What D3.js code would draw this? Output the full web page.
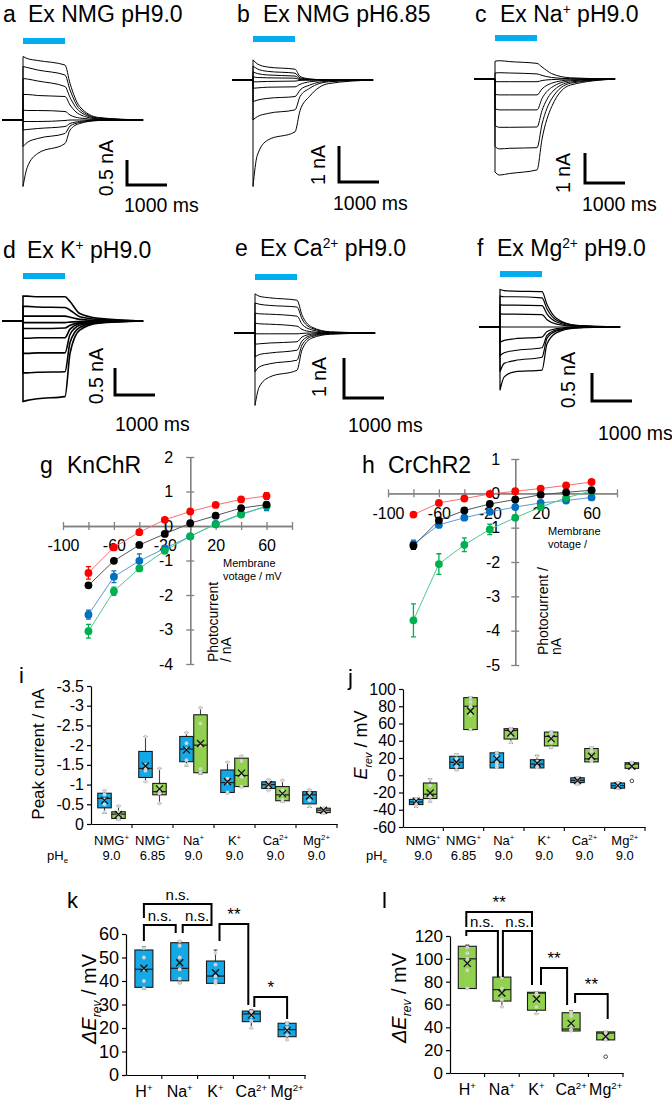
<!DOCTYPE html>
<html><head><meta charset="utf-8">
<script src="https://d3js.org/d3.v7.min.js"></script>
<style>html,body{margin:0;padding:0;background:#fff;}svg{display:block;}</style>
</head><body>
<script>
// ================= DATA =================
// Photocurrent traces (nA) at these times (s after light onset); holding = 0 nA
const traceTimes = [0, 0.1, 0.35, 1.0, 1.12, 1.35, 1.8];
const holdStart = -0.5, recordEnd = 2.86;
const tracesA = [
  [1.27, 1.23, 1.19, 1.10, 0.73, 0.27, 0.05],
  [1.07, 1.05, 1.00, 0.90, 0.60, 0.22, 0.04],
  [0.83, 0.82, 0.78, 0.67, 0.45, 0.17, 0.03],
  [0.51, 0.51, 0.49, 0.47, 0.30, 0.11, 0.02],
  [0.20, 0.19, 0.19, 0.17, 0.10, 0.04, 0.01],
  [-0.03, -0.03, -0.03, -0.01, 0.00, 0.00, 0.00],
  [-0.20, -0.19, -0.17, -0.13, -0.07, -0.03, 0.00],
  [-0.53, -0.45, -0.37, -0.27, -0.12, -0.05, -0.01],
  [-1.33, -0.95, -0.67, -0.47, -0.20, -0.07, -0.01]
];
const tracesB = [
  [0.56, 0.45, 0.36, 0.30, 0.10, 0.03, 0.00],
  [0.39, 0.31, 0.24, 0.19, 0.06, 0.02, 0.00],
  [0.23, 0.18, 0.14, 0.11, 0.03, 0.01, 0.00],
  [0.09, 0.07, 0.06, 0.05, 0.01, 0.00, 0.00],
  [-0.05, -0.05, -0.04, -0.03, -0.01, 0.00, 0.00],
  [-0.23, -0.22, -0.20, -0.19, -0.12, -0.05, -0.01],
  [-0.60, -0.56, -0.51, -0.46, -0.28, -0.14, -0.03],
  [-1.11, -1.02, -0.93, -0.83, -0.46, -0.23, -0.05],
  [-2.96, -2.10, -1.67, -1.44, -0.85, -0.45, -0.10]
];
const tracesC = [
  [0.59, 0.61, 0.58, 0.52, 0.40, 0.18, 0.04],
  [0.20, 0.21, 0.20, 0.17, 0.12, 0.05, 0.01],
  [-0.09, -0.09, -0.09, -0.09, -0.05, -0.02, 0.00],
  [-0.51, -0.53, -0.53, -0.53, -0.33, -0.14, -0.03],
  [-0.99, -1.03, -1.03, -1.03, -0.65, -0.28, -0.06],
  [-1.55, -1.61, -1.61, -1.60, -1.05, -0.45, -0.10],
  [-2.25, -2.33, -2.31, -2.29, -1.50, -0.66, -0.14],
  [-3.10, -3.20, -3.15, -3.03, -2.00, -0.92, -0.20]
];
const tracesD = [
  [0.46, 0.46, 0.45, 0.45, 0.36, 0.14, 0.05],
  [0.27, 0.27, 0.26, 0.25, 0.20, 0.08, 0.03],
  [0.09, 0.09, 0.09, 0.09, 0.07, 0.03, 0.01],
  [-0.03, -0.03, -0.03, -0.03, -0.02, -0.01, 0.00],
  [-0.14, -0.14, -0.14, -0.13, -0.08, -0.03, 0.00],
  [-0.32, -0.32, -0.31, -0.31, -0.15, -0.05, -0.01],
  [-0.60, -0.60, -0.59, -0.59, -0.25, -0.08, -0.02],
  [-0.96, -0.96, -0.95, -0.94, -0.40, -0.12, -0.03],
  [-1.49, -1.47, -1.44, -1.40, -0.60, -0.17, -0.04]
];
const tracesE = [
  [0.98, 0.92, 0.88, 0.82, 0.45, 0.15, 0.03],
  [0.75, 0.72, 0.69, 0.65, 0.35, 0.12, 0.02],
  [0.50, 0.48, 0.47, 0.42, 0.22, 0.08, 0.01],
  [0.25, 0.23, 0.22, 0.17, 0.09, 0.03, 0.00],
  [-0.02, -0.02, -0.02, -0.02, -0.01, 0.00, 0.00],
  [-0.28, -0.27, -0.25, -0.22, -0.10, -0.03, 0.00],
  [-0.60, -0.54, -0.50, -0.43, -0.20, -0.06, -0.01],
  [-0.97, -0.85, -0.77, -0.68, -0.30, -0.09, -0.02],
  [-1.81, -1.35, -1.10, -0.93, -0.42, -0.13, -0.03]
];
const tracesF = [
  [0.67, 0.65, 0.64, 0.63, 0.40, 0.15, 0.03],
  [0.55, 0.54, 0.54, 0.52, 0.32, 0.12, 0.03],
  [0.40, 0.39, 0.39, 0.38, 0.23, 0.09, 0.02],
  [0.24, 0.23, 0.23, 0.22, 0.13, 0.05, 0.01],
  [0.00, 0.00, 0.00, 0.00, 0.00, 0.00, 0.00],
  [-0.27, -0.24, -0.21, -0.18, -0.08, -0.03, 0.00],
  [-0.51, -0.46, -0.42, -0.37, -0.15, -0.05, -0.01],
  [-0.80, -0.65, -0.60, -0.54, -0.20, -0.07, -0.01],
  [-1.13, -0.89, -0.80, -0.77, -0.30, -0.10, -0.02]
];

// I-V curves (mV, nA)
const ivVoltages = [-80, -60, -40, -20, 0, 20, 40, 60];
const ivXTicks = [-100, -80, -60, -40, -20, 0, 20, 40, 60, 80];
const ivXLabels = [-100, -60, -20, 20, 60];
const gRed = [-1.36, -0.62, -0.18, 0.18, 0.42, 0.61, 0.77, 0.87];
const gRedErr = [0.18, 0.05, 0.05, 0.04, 0.03, 0.03, 0.04, 0.10];
const gBlack = [-1.72, -1.01, -0.55, -0.23, 0.08, 0.30, 0.52, 0.62];
const gBlackErr = [0.06, 0.06, 0.05, 0.04, 0.03, 0.03, 0.04, 0.05];
const gBlue = [-2.57, -1.47, -1.01, -0.65, -0.30, 0.06, 0.35, 0.57];
const gBlueErr = [0.13, 0.17, 0.20, 0.08, 0.06, 0.04, 0.05, 0.12];
const gGreen = [-3.05, -1.89, -1.23, -0.72, -0.30, 0.05, 0.33, 0.57];
const gGreenErr = [0.20, 0.12, 0.06, 0.05, 0.04, 0.03, 0.04, 0.05];
const hRed = [-0.62, -0.28, -0.15, -0.02, 0.06, 0.14, 0.23, 0.33];
const hRedErr = [0.04, 0.03, 0.03, 0.02, 0.02, 0.02, 0.02, 0.03];
const hBlack = [-1.53, -0.79, -0.50, -0.31, -0.18, -0.04, 0.03, 0.09];
const hBlackErr = [0.10, 0.05, 0.04, 0.03, 0.03, 0.02, 0.02, 0.03];
const hBlue = [-1.48, -0.92, -0.71, -0.54, -0.40, -0.28, -0.21, -0.12];
const hBlueErr = [0.12, 0.05, 0.04, 0.04, 0.03, 0.03, 0.03, 0.03];
const hGreen = [-3.70, -2.06, -1.50, -1.05, -0.71, -0.40, -0.13, 0.07];
const hGreenErr = [0.48, 0.30, 0.20, 0.15, 0.05, 0.04, 0.03, 0.03];

// Box plots: [whisker end, Q1, median, Q3, whisker end]
const ionCats = ["NMG9", "NMG6.85", "Na", "K", "Ca", "Mg"];
const ionNames = [["NMG", "+"], ["NMG", "+"], ["Na", "+"], ["K", "+"], ["Ca", "2+"], ["Mg", "2+"]];
const ionPH = ["9.0", "6.85", "9.0", "9.0", "9.0", "9.0"];
const iBlue = [[-0.27, -0.41, -0.65, -0.78, -0.85], [-1.07, -1.18, -1.41, -1.84, -2.22], [-1.47, -1.58, -1.90, -2.22, -2.32],
               [-0.78, -0.80, -1.05, -1.37, -1.57], [-0.85, -0.90, -1.00, -1.07, -1.13], [-0.42, -0.51, -0.74, -0.82, -0.87]];
const iBlueMean = [-0.60, -1.47, -1.88, -1.07, -1.00, -0.71];
const iBluePts = [[-0.85, -0.75, -0.62, -0.5, -0.3], [-2.22, -1.5, -1.42, -1.35, -1.07], [-2.32, -2.05, -1.9, -1.62, -1.5],
                  [-1.57, -1.15, -1.05, -0.8, -0.78], [-1.13, -1.05, -1.0, -0.95, -0.85], [-0.87, -0.78, -0.72, -0.6, -0.45]];
const iGreen = [[-0.10, -0.14, -0.25, -0.31, -0.46], [-0.52, -0.74, -0.82, -1.03, -1.41], [-1.26, -1.30, -2.00, -2.77, -2.95],
                [-0.93, -0.95, -1.23, -1.67, -1.73], [-0.55, -0.59, -0.74, -0.95, -1.11], [-0.26, -0.29, -0.35, -0.40, -0.41]];
const iGreenMean = [-0.24, -0.89, -2.04, -1.29, -0.77, -0.35];
const iGreenPts = [[-0.46, -0.3, -0.25, -0.18, -0.12], [-1.41, -0.95, -0.85, -0.78, -0.52], [-2.95, -2.55, -2.0, -1.4, -1.3],
                   [-1.73, -1.6, -1.2, -0.95, -0.93], [-1.11, -0.85, -0.75, -0.62, -0.57], [-0.41, -0.38, -0.35, -0.32, -0.28]];
const jBlue = [[-37, -34, -31, -28, -26], [6, 8, 15, 22, 25], [8, 8.5, 15, 26, 27], [8.5, 8.5, 13, 18, 23], [-11, -8.5, -6, -3, -2], [-16, -15, -12, -9, -8]];
const jBlueMean = [-30, 15, 19, 14, -6, -12];
const jBluePts = [[-36, -33, -31, -29, -27], [6, 10, 15, 19, 24], [9, 12, 15, 22, 26], [9, 11, 13, 16, 22], [-10, -8, -6, -4, -3], [-15, -14, -12, -10, -9]];
const jGreen = [[-31, -27, -22, -9, -4], [52, 53, 80, 90, 91], [37, 42, 52, 54, 55], [31, 34, 45, 50, 51], [15, 15.5, 19, 31, 33], [8, 8, 13, 14.5, 16]];
const jGreenMean = [-20.5, 74.5, 49, 42.5, 22, 10.5];
const jGreenPts = [[-30, -25, -22, -12, -5], [53, 70, 80, 85, 90], [38, 45, 50, 53, 54], [32, 38, 44, 48, 50], [16, 18, 22, 28, 32], [9, 10, 12, 14, 15]];
const jGreenOutliers = [[], [], [], [], [], [-6.5]];

const dCats = ["H", "Na", "K", "Ca", "Mg"];
const dNames = [["H", "+"], ["Na", "+"], ["K", "+"], ["Ca", "2+"], ["Mg", "2+"]];
const kBox = [[36.5, 37.3, 45, 53.2, 54.6], [39.2, 40.1, 45.4, 56.3, 57], [39, 39, 42.1, 48.5, 53.2], [19.9, 22.7, 26, 27.2, 27.7], [14.9, 16.3, 19.3, 22, 22.4]];
const kMean = [45.4, 47.8, 43.5, 25.5, 19];
const kPts = [[37, 40, 45, 50, 54], [39, 41, 45, 50, 55, 57], [39, 40, 42, 47, 52], [20, 23, 25, 26, 27], [15, 17, 19, 20, 22]];
const lBox = [[74, 74, 100, 111, 112], [58, 63, 73, 84, 84], [52, 55, 70, 70.7, 71], [36.8, 36.8, 38.5, 52.8, 54.5], [29, 29, 35, 36, 36.5]];
const lMean = [96, 70, 64.8, 43.5, 32];
const lPts = [[74, 90, 100, 105, 110], [58, 64, 70, 74, 84], [52, 58, 65, 69, 70], [37, 38, 42, 50, 53], [29, 31, 33, 35, 36]];
const lOutliers = [[], [], [], [], [14.3]];

// Significance brackets: [from, to, label, bar level, drop at from, drop at to] (mV)
const kSig = [[0, 2, "n.s.", 72.8, 66.8, 66.8], [0, 1, "n.s.", 63.8, 57, 60.4], [1, 2, "n.s.", 63.8, 60.4, 66.8],
              [2, 3, "**", 64.3, 57, 29.8], [3, 4, "*", 33.2, 28.9, 23.8]];
const lSig = [[0, 2, "**", 141, 127.8, 127.8], [0, 1, "n.s.", 124.3, 120, 84], [1, 2, "n.s.", 124.3, 84, 77],
              [2, 3, "**", 92, 77, 59.5], [3, 4, "**", 69.2, 61.3, 47.3]];

// ================= DRAWING =================
const FONT = "'Liberation Sans', Arial, Helvetica, sans-serif";
const LIGHT = "#00aeef", BOXBLUE = "#14a9e6", BOXGREEN = "#92d050";
const svg = d3.select("body").append("svg").attr("width", 672).attr("height", 1107)
  .attr("font-family", FONT).attr("fill", "#000");

function rich(sel, parts, size) {
  let cur = 0;
  parts.forEach(p => {
    const f = p[1] || "";
    const ts = sel.append("tspan").text(p[0]);
    let target = 0;
    if (f.includes("s")) target = -0.36 * size;
    if (f.includes("b")) target = 0.26 * size;
    if (target !== cur) ts.attr("dy", (target - cur).toFixed(2));
    cur = target;
    if (f.includes("s") || f.includes("b")) ts.attr("font-size", (size * 0.6).toFixed(1));
    if (f.includes("i")) ts.attr("font-style", "italic");
  });
}

// ---- trace panels ----
const traceLayout = [
  {data: tracesA, lab: "a", title: [["Ex NMG pH9.0"]], lx: 3, tx: 28, ty: 22, on: 23, base: 120, pxNA: 50, barY: 38, sb: 0.5, sbText: "0.5 nA", sbX: 127, sbY: 185, sbTX: 113, sbTY: 168, msX: 124, msY: 212, sw: 1},
  {data: tracesB, lab: "b", title: [["Ex NMG pH6.85"]], lx: 237, tx: 263, ty: 22, on: 253, base: 80, pxNA: 36, barY: 36, sb: 1, sbText: "1 nA", sbX: 339, sbY: 182, sbTX: 325, sbTY: 165, msX: 333, msY: 210, sw: 1},
  {data: tracesC, lab: "c", title: [["Ex Na"], ["+", "s"], [" pH9.0"]], lx: 475, tx: 500, ty: 22, on: 495, base: 79, pxNA: 30, barY: 35, sb: 1, sbText: "1 nA", sbX: 585, sbY: 183, sbTX: 570, sbTY: 173, msX: 582, msY: 211, sw: 1},
  {data: tracesD, lab: "d", title: [["Ex K"], ["+", "s"], [" pH9.0"]], lx: 3, tx: 27, ty: 258, on: 23, base: 321, pxNA: 54, barY: 273, sb: 0.5, sbText: "0.5 nA", sbX: 115, sbY: 395, sbTX: 103, sbTY: 376, msX: 115, msY: 431, sw: 1.6},
  {data: tracesE, lab: "e", title: [["Ex Ca"], ["2+", "s"], [" pH9.0"]], lx: 235, tx: 260, ty: 256, on: 255, base: 333, pxNA: 40, barY: 274, sb: 1, sbText: "1 nA", sbX: 344, sbY: 398, sbTX: 326, sbTY: 377, msX: 348, msY: 432, sw: 1},
  {data: tracesF, lab: "f", title: [["Ex Mg"], ["2+", "s"], [" pH9.0"]], lx: 477, tx: 497, ty: 256, on: 500, base: 327, pxNA: 56, barY: 271, sb: 0.5, sbText: "0.5 nA", sbX: 592, sbY: 401, sbTX: 575, sbTY: 380, msX: 598, msY: 440, sw: 1.2}
];

traceLayout.forEach(p => {
  const g = svg.append("g");
  const x = d3.scaleLinear().domain([0, 1]).range([p.on, p.on + 42]);
  const y = d3.scaleLinear().domain([0, 1]).range([p.base, p.base - p.pxNA]);
  g.append("text").attr("x", p.lx).attr("y", p.ty).attr("font-size", 23).text(p.lab);
  rich(g.append("text").attr("x", p.tx).attr("y", p.ty).attr("font-size", 23), p.title, 23);
  g.append("rect").attr("x", x(0)).attr("width", x(1) - x(0)).attr("y", p.barY).attr("height", 6).attr("fill", LIGHT);
  const line = d3.line().x(d => x(d[0])).y(d => y(d[1])).curve(d3.curveMonotoneX);
  p.data.forEach(vals => {
    const pts = traceTimes.map((t, i) => [t, vals[i]]).concat([[recordEnd, 0]]);
    const c = line(pts);
    g.append("path").attr("d", `M${x(holdStart)},${y(0)}L${x(0)},${y(0)}L` + c.slice(1))
      .attr("fill", "none").attr("stroke", "#000").attr("stroke-width", p.sw);
  });
  const vLen = y(0) - y(p.sb), hLen = x(1) - x(0) - 2;
  g.append("path").attr("d", `M${p.sbX},${p.sbY - vLen}V${p.sbY}H${p.sbX + hLen}`)
    .attr("fill", "none").attr("stroke", "#000").attr("stroke-width", 3);
  g.append("text").attr("transform", `translate(${p.sbTX},${p.sbTY}) rotate(-90)`).attr("text-anchor", "middle")
    .attr("font-size", 19.5).text(p.sbText);
  g.append("text").attr("x", p.msX).attr("y", p.msY).attr("font-size", 19.5).text("1000 ms");
});

// ---- I-V panels ----
function ivPanel(cfg) {
  const g = svg.append("g");
  const AX = "#808080";
  const x = d3.scaleLinear().domain([-100, 80]).range([cfg.xl, cfg.xr]);
  const y = d3.scaleLinear().domain([cfg.yMin, cfg.yMax]).range([cfg.yb, cfg.yt]);
  const fmtX = d => ivXLabels.includes(d) ? String(d) : "";
  const ax1 = g.append("g").attr("transform", `translate(0,${y(0)})`)
    .call(d3.axisBottom(x).tickValues(ivXTicks).tickSize(4).tickSizeOuter(0).tickPadding(10).tickFormat(fmtX));
  const ax2 = g.append("g").attr("transform", `translate(0,${y(0)})`)
    .call(d3.axisTop(x).tickValues(ivXTicks).tickSize(4).tickSizeOuter(0).tickFormat(""));
  const ay1 = g.append("g").attr("transform", `translate(${x(0)},0)`)
    .call(d3.axisLeft(y).tickValues(d3.range(cfg.yMin, cfg.yMax + 1)).tickSize(4).tickSizeOuter(0).tickPadding(cfg.yPad).tickFormat(d => String(d)));
  const ay2 = g.append("g").attr("transform", `translate(${x(0)},0)`)
    .call(d3.axisRight(y).tickValues(d3.range(cfg.yMin, cfg.yMax + 1)).tickSize(4).tickSizeOuter(0).tickFormat(""));
  [ax1, ax2, ay1, ay2].forEach(a => {
    a.selectAll("path,line").attr("stroke", AX).attr("stroke-width", 1.3);
    a.selectAll("text").attr("font-size", 16).attr("font-family", FONT).attr("fill", "#000");
  });
  const line = d3.line().x((d, i) => x(ivVoltages[i])).y(d => y(d));
  cfg.series.forEach(s => {
    g.append("path").attr("d", line(s.v)).attr("fill", "none").attr("stroke", s.lc).attr("stroke-width", 1);
  });
  cfg.series.forEach(s => {
    s.v.forEach((v, i) => {
      const cx = x(ivVoltages[i]), e = s.e[i];
      g.append("path").attr("d", `M${cx},${y(v - e)}V${y(v + e)}M${cx - 2.5},${y(v - e)}H${cx + 2.5}M${cx - 2.5},${y(v + e)}H${cx + 2.5}`)
        .attr("stroke", s.c).attr("stroke-width", 1.3).attr("fill", "none");
      g.append("circle").attr("cx", cx).attr("cy", y(v)).attr("r", 3.9).attr("fill", s.c);
    });
  });
  g.append("text").attr("x", cfg.labX).attr("y", 473).attr("font-size", 23).text(cfg.lab);
  g.append("text").attr("x", cfg.nameX).attr("y", 473).attr("font-size", 23).text(cfg.name);
  cfg.mem.forEach((t, i) => g.append("text").attr("x", cfg.memX).attr("y", cfg.memY + i * 12.5).attr("font-size", 11).text(t));
  cfg.pc.forEach((t, i) => g.append("text").attr("transform", `translate(${cfg.pcX + i * 13},${cfg.pcY}) rotate(-90)`).attr("font-size", 14).text(t));
}
ivPanel({lab: "g", labX: 40, name: "KnChR", nameX: 67, xl: 63, xr: 292, yMin: -4, yMax: 2, yb: 664, yt: 457, yPad: 13,
  mem: ["Membrane", "votage / mV"], memX: 223, memY: 567, pc: ["Photocurrent", "/ nA"], pcX: 218, pcY: 662,
  series: [
    {v: gBlue, e: gBlueErr, c: "#0070c0", lc: "#5b9bd5"},
    {v: gGreen, e: gGreenErr, c: "#00b050", lc: "#4cc98a"},
    {v: gRed, e: gRedErr, c: "#ff0000", lc: "#ff6b6b"},
    {v: gBlack, e: gBlackErr, c: "#000000", lc: "#555555"}]});
ivPanel({lab: "h", labX: 362, name: "CrChR2", nameX: 388, xl: 388, xr: 617, yMin: -5, yMax: 1, yb: 665, yt: 459, yPad: 11,
  mem: ["Membrane", "votage /"], memX: 548, memY: 535, pc: ["Photocurrent /", "nA"], pcX: 548, pcY: 655,
  series: [
    {v: hBlue, e: hBlueErr, c: "#0070c0", lc: "#5b9bd5"},
    {v: hGreen, e: hGreenErr, c: "#00b050", lc: "#4cc98a"},
    {v: hRed, e: hRedErr, c: "#ff0000", lc: "#ff6b6b"},
    {v: hBlack, e: hBlackErr, c: "#000000", lc: "#555555"}]});

// ---- box panels ----
function drawBox(g, y, cx, w, s, mean, pts, outl, fill) {
  const L = "#404040";
  g.append("path").attr("d", `M${cx},${y(s[0])}V${y(s[1])}M${cx},${y(s[3])}V${y(s[4])}M${cx - 2},${y(s[0])}H${cx + 2}M${cx - 2},${y(s[4])}H${cx + 2}`)
    .attr("stroke", L).attr("stroke-width", 1.1).attr("fill", "none");
  const y1 = Math.min(y(s[1]), y(s[3])), y2 = Math.max(y(s[1]), y(s[3]));
  g.append("rect").attr("x", cx - w / 2).attr("y", y1).attr("width", w).attr("height", Math.max(y2 - y1, 1))
    .attr("fill", fill).attr("stroke", "#1a1a1a").attr("stroke-width", 1.1);
  g.append("line").attr("x1", cx - w / 2).attr("x2", cx + w / 2).attr("y1", y(s[2])).attr("y2", y(s[2]))
    .attr("stroke", "#1a1a1a").attr("stroke-width", 1.2);
  pts.forEach(v => g.append("circle").attr("cx", cx).attr("cy", y(v)).attr("r", 1.9).attr("fill", "#d4d4d4"));
  outl.forEach(v => g.append("circle").attr("cx", cx).attr("cy", y(v)).attr("r", 1.8).attr("fill", "#fff").attr("stroke", "#333").attr("stroke-width", 0.9));
  const my = y(mean), k = 3.5;
  g.append("path").attr("d", `M${cx - k},${my - k}L${cx + k},${my + k}M${cx - k},${my + k}L${cx + k},${my - k}`)
    .attr("stroke", "#111").attr("stroke-width", 1.3);
}

function boxPanel(cfg) {
  const g = svg.append("g");
  const y = d3.scaleLinear().domain(cfg.domain).range([cfg.yb, cfg.yt]);
  const x = d3.scaleBand().domain(cfg.cats).range([cfg.xl, cfg.xr]);
  const ay = g.append("g").attr("transform", `translate(${cfg.xl},0)`)
    .call(d3.axisLeft(y).tickValues(cfg.ticks).tickSize(4).tickSizeOuter(0).tickPadding(3).tickFormat(d => String(d)));
  ay.selectAll("path,line").attr("stroke", "#000").attr("stroke-width", 1.2);
  ay.selectAll("text").attr("font-size", cfg.tickFont).attr("font-family", FONT).attr("fill", "#000");
  const ax = g.append("g").attr("transform", `translate(0,${cfg.yb})`)
    .call(d3.axisBottom(x).tickSize(0).tickFormat(""));
  ax.selectAll("path").attr("stroke", "#000").attr("stroke-width", 1.2);
  d3.range(1, cfg.cats.length + 1).forEach(i => {
    const tx = cfg.xl + i * x.step();
    g.append("line").attr("x1", tx).attr("x2", tx).attr("y1", cfg.yb).attr("y2", cfg.yb + 4).attr("stroke", "#000").attr("stroke-width", 1.1);
  });
  cfg.series.forEach(s => {
    cfg.cats.forEach((c, i) => {
      const cx = x(c) + x.bandwidth() / 2 + s.off;
      drawBox(g, y, cx, cfg.bw, s.box[i], s.mean[i], s.pts[i], s.out ? s.out[i] : [], s.fill);
    });
  });
  cfg.cats.forEach((c, i) => {
    const cx = x(c) + x.bandwidth() / 2;
    rich(g.append("text").attr("x", cx).attr("y", cfg.labY).attr("text-anchor", "middle").attr("font-size", cfg.catFont),
      [[cfg.names[i][0]], [cfg.names[i][1], "s"]], cfg.catFont);
    if (cfg.ph) g.append("text").attr("x", cx).attr("y", cfg.labY + 15).attr("text-anchor", "middle").attr("font-size", cfg.catFont).text(cfg.ph[i]);
  });
  if (cfg.ph) rich(g.append("text").attr("x", cfg.phX).attr("y", cfg.labY + 15).attr("font-size", 13), [["pH"], ["e", "b"]], 13);
  g.append("text").attr("x", cfg.labX).attr("y", cfg.labLY).attr("font-size", 22).text(cfg.lab);
  rich(g.append("text").attr("transform", `translate(${cfg.titleX},${cfg.titleY}) rotate(-90)`).attr("text-anchor", "middle")
    .attr("font-size", cfg.titleFont), cfg.title, cfg.titleFont);
  if (cfg.sig) {
    cfg.sig.forEach((b, k) => {
      const off = cfg.sigOff[k];
      const xa = x(cfg.cats[b[0]]) + x.bandwidth() / 2 + off[0];
      const xb = x(cfg.cats[b[1]]) + x.bandwidth() / 2 + off[1];
      g.append("path").attr("d", `M${xa},${y(b[4])}V${y(b[3])}H${xb}V${y(b[5])}`)
        .attr("fill", "none").attr("stroke", "#000").attr("stroke-width", 2);
      g.append("text").attr("x", (xa + xb) / 2).attr("y", y(b[3]) - 4).attr("text-anchor", "middle")
        .attr("font-size", b[2] === "n.s." ? 15 : 17).text(b[2]);
    });
  }
}

boxPanel({lab: "i", labX: 19, labLY: 683, cats: ionCats, names: ionNames, ph: ionPH, phX: 47,
  domain: [0, -3.5], ticks: d3.range(0, -3.75, -0.5), yb: 824, yt: 686, xl: 91, xr: 337, bw: 13.5, tickFont: 16, catFont: 13, labY: 845,
  title: [["Peak current / nA"]], titleX: 44, titleY: 754, titleFont: 17,
  series: [{box: iBlue, mean: iBlueMean, pts: iBluePts, fill: BOXBLUE, off: -7},
           {box: iGreen, mean: iGreenMean, pts: iGreenPts, fill: BOXGREEN, off: 7}]});
boxPanel({lab: "j", labX: 348, labLY: 685, cats: ionCats, names: ionNames, ph: ionPH, phX: 366,
  domain: [-60, 100], ticks: d3.range(-60, 101, 20), yb: 827, yt: 689, xl: 403, xr: 645, bw: 13.5, tickFont: 16, catFont: 13, labY: 845,
  title: [["E", "i"], ["rev", "ib"], [" / mV"]], titleX: 367, titleY: 745, titleFont: 18,
  series: [{box: jBlue, mean: jBlueMean, pts: jBluePts, fill: BOXBLUE, off: -7},
           {box: jGreen, mean: jGreenMean, pts: jGreenPts, out: jGreenOutliers, fill: BOXGREEN, off: 7}]});
boxPanel({lab: "k", labX: 67, labLY: 908, cats: dCats, names: dNames,
  domain: [0, 60], ticks: d3.range(0, 61, 10), yb: 1075, yt: 934, xl: 126, xr: 305, bw: 18, tickFont: 18, catFont: 16, labY: 1097,
  title: [["ΔE", "i"], ["rev", "ib"], [" / mV"]], titleX: 96, titleY: 999, titleFont: 20,
  series: [{box: kBox, mean: kMean, pts: kPts, fill: BOXBLUE, off: 0}],
  sig: kSig, sigOff: [[0, -4], [0, -4], [3, -4], [4, -3], [3, 0]]});
boxPanel({lab: "l", labX: 382, labLY: 908, cats: dCats, names: dNames,
  domain: [0, 120], ticks: d3.range(0, 121, 20), yb: 1073, yt: 936, xl: 450, xr: 623, bw: 18, tickFont: 17, catFont: 16, labY: 1095,
  title: [["ΔE", "i"], ["rev", "ib"], [" / mV"]], titleX: 406, titleY: 998, titleFont: 20,
  series: [{box: lBox, mean: lMean, pts: lPts, out: lOutliers, fill: BOXGREEN, off: 0}],
  sig: lSig, sigOff: [[-1, -4.5], [-1, -4], [1, -4.5], [4.5, -4], [4, 2]]});
</script>
</body></html>
